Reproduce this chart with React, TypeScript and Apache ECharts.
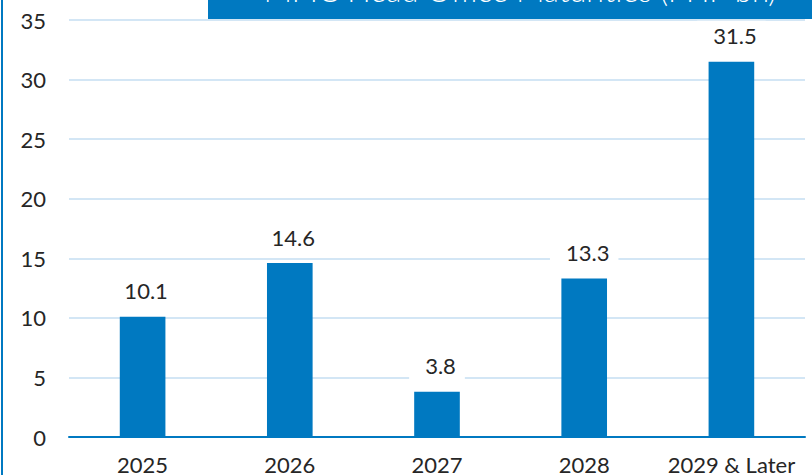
import React, { useEffect, useRef } from "react";
import * as echarts from "echarts";

const categories = ["2025", "2026", "2027", "2028", "2029 & Later"];
const values = [10.1, 14.6, 3.8, 13.3, 31.5];
const yTicks = { min: 0, max: 35, interval: 5 };
const title = "MPIC Head Office Maturities (PHP bn)";

const BLUE = "#0079C1";
const FONT = "Lato";
const W = 400;
const TXT = "#262626";

export default function App() {
  const ref = useRef<HTMLDivElement>(null);
  useEffect(() => {
    if (!ref.current) return;
    const chart = echarts.init(ref.current, null, { renderer: "svg" });
    chart.setOption({
      animation: false,
      backgroundColor: "#ffffff",
      grid: { left: 69, right: 7, top: 20, bottom: 38 },
      xAxis: {
        type: "category",
        data: categories,
        axisLine: { lineStyle: { color: BLUE, width: 2 } },
        axisTick: { show: false },
        axisLabel: { color: TXT, fontFamily: FONT, fontWeight: W, fontSize: 22, margin: 16, interval: 0 },
      },
      yAxis: {
        type: "value",
        min: yTicks.min,
        max: yTicks.max,
        interval: yTicks.interval,
        axisLine: { show: false },
        axisTick: { show: false },
        axisLabel: { color: TXT, fontFamily: FONT, fontWeight: W, fontSize: 22, margin: 23 },
        splitLine: { lineStyle: { color: "#D3E6F5", width: 2 } },
      },
      series: [
        {
          type: "bar",
          data: values,
          barWidth: "31%",
          itemStyle: { color: BLUE },
          label: {
            show: true,
            position: "top",
            distance: 11,
            color: TXT,
            fontFamily: FONT,
            fontWeight: W,
            fontSize: 22,
            lineHeight: 22,
            backgroundColor: "#ffffff",
            padding: [4, 9, 4, 16],
          },
        },
      ],
      graphic: [
        {
          type: "rect",
          shape: { x: 208, y: -30, width: 620, height: 49 },
          style: { fill: BLUE },
          z: 100,
        },
        {
          type: "text",
          x: 520,
          y: 5,
          style: {
            text: title,
            fill: "#ffffff",
            font: `300 31px ${FONT}`,
            textAlign: "center",
            textVerticalAlign: "bottom",
          },
          z: 101,
        },
        {
          type: "rect",
          shape: { x: 1, y: 0, width: 2, height: 475 },
          style: { fill: BLUE },
          z: 100,
        },
      ],
    });
    return () => chart.dispose();
  }, []);
  return (
    <div
      ref={ref}
      style={{ position: "fixed", left: 0, top: 0, width: 812, height: 475 }}
    />
  );
}
